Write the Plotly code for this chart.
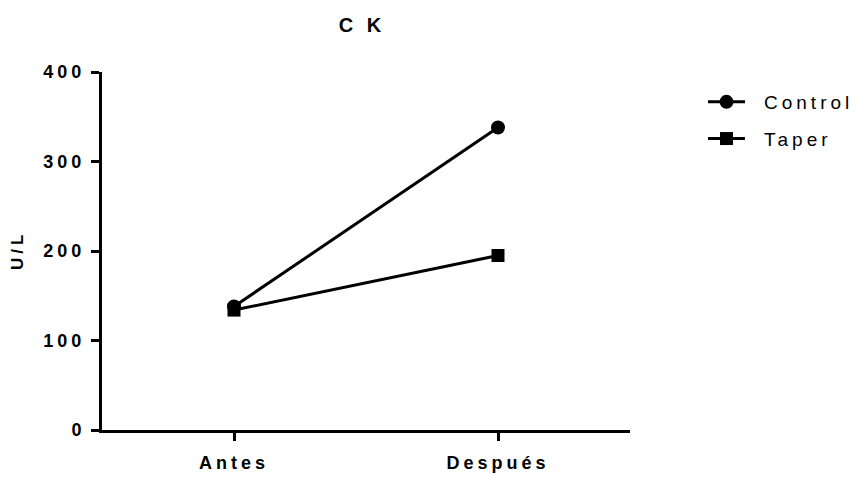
import plotly.graph_objects as go

categories = ["Antes", "Después"]
control = [138, 338]
taper = [134, 195]
y_ticks = [0, 100, 200, 300, 400]

fig = go.Figure()
fig.add_trace(go.Scatter(x=categories, y=control, name="Control", legendgroup="control",
                         mode="lines+markers",
                         line=dict(color="black", width=3),
                         marker=dict(symbol="circle", size=14, color="black")))
fig.add_trace(go.Scatter(x=categories, y=taper, name="Taper", legendgroup="taper",
                         mode="lines+markers",
                         line=dict(color="black", width=3),
                         marker=dict(symbol="square", size=13, color="black")))

L, R, T, B = 102, 227, 72, 47
pw, ph = 857 - L - R, 477 - T - B

fig.update_layout(
    width=857, height=477,
    margin=dict(l=L, r=R, t=T, b=B, autoexpand=False),
    plot_bgcolor="white", paper_bgcolor="white",
    font=dict(family="Liberation Sans, Arial", color="black"),
    title=dict(text="<b>C K</b>", x=362/857, xanchor="center", y=1-25/477, yanchor="middle",
               font=dict(size=20)),
    showlegend=True,
    legend=dict(x=(703 - L)/pw, xanchor="left", y=(477 - B - 83)/ph, yanchor="top",
                font=dict(size=19), itemwidth=37, tracegroupgap=9, bgcolor="rgba(0,0,0,0)"),
    xaxis=dict(type="category", range=[-0.5, 1.5], automargin=False,
               tickvals=categories, ticktext=["<b>" + c + "</b>" for c in categories],
               showgrid=False, zeroline=False, showline=True, linecolor="black", linewidth=3,
               ticks="outside", ticklen=8, tickwidth=3, tickcolor="black",
               tickfont=dict(size=18), ticklabelstandoff=6, fixedrange=True),
    yaxis=dict(range=[0, 400], tickvals=y_ticks, ticktext=["<b>%d</b>" % v for v in y_ticks],
               automargin=False,
               showgrid=False, zeroline=False, showline=True, linecolor="black", linewidth=3,
               ticks="outside", ticklen=8, tickwidth=3, tickcolor="black",
               tickfont=dict(size=18), ticklabelstandoff=2, fixedrange=True),
    annotations=[dict(text="<b>U/L</b>", textangle=-90, xref="paper", yref="paper",
                      x=(17 - L)/pw, y=0.5, xanchor="center", yanchor="middle",
                      showarrow=False, font=dict(size=17))],
)

post = """
var s = document.createElement('style');
s.innerHTML = '.main-svg text{letter-spacing:4px !important;} .legendtext{letter-spacing:5.5px !important; transform:translateX(14px);} .legend .scrollbox, .legend{clip-path:none !important;}';
document.head.appendChild(s);
"""
fig.write_html("out.html", post_script=post)
